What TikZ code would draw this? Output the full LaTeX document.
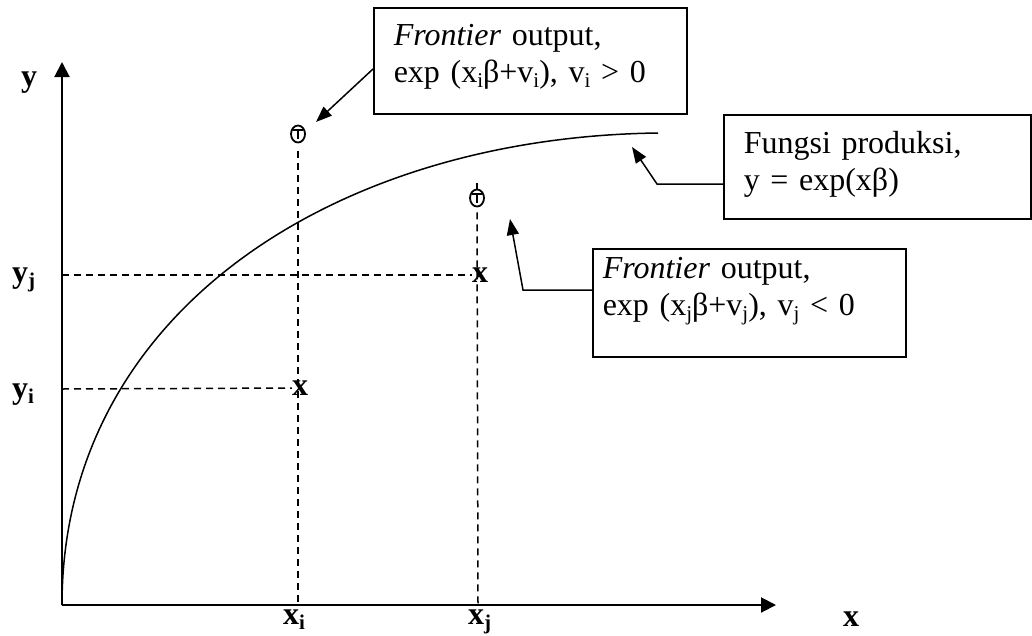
\documentclass[tikz,border=0pt]{standalone}
\usepackage{fontspec}
\setmainfont{Liberation Serif}
\usetikzlibrary{arrows.meta,calc,shapes.geometric}
\newcommand{\lsub}[1]{\raisebox{-0.16em}{\fontsize{21}{21}\selectfont #1}}
\begin{document}
\begin{tikzpicture}[x=1pt,y=-1pt,
  every node/.style={font=\fontsize{32}{37}\selectfont},
  lbl/.style={font=\fontsize{32}{37}\selectfont\bfseries, inner sep=0pt},
  textbox/.style={draw, line width=1.5pt, anchor=north west, align=left, inner ysep=0pt, inner xsep=20pt},
  axis/.style={line width=2pt, -{Triangle[length=15pt,width=15pt]}},
  guide/.style={line width=1.5pt, dash pattern=on 7pt off 5pt},
  curveline/.style={line width=1.5pt},
  pointer/.style={line width=1.5pt, -{Triangle[length=16pt,width=12pt]}},
  marker/.style={ellipse, draw, line width=1.8pt, minimum width=14pt, minimum height=17pt, inner sep=0pt},
  tee/.style={line width=2pt}]
\useasboundingbox (0,0) rectangle (1032,635);

% axes
\coordinate (O) at (62,605);
\coordinate (ytip) at (62,62);
\coordinate (xtip) at (776,605);
\draw[axis] (O) -- (ytip);
\draw[axis] (O) -- (xtip);

% axis labels
\node[lbl, anchor=base west] (ylab) at (21,86) {y};
\node[lbl, anchor=base west] (xlab) at (843,626) {x};
\node[lbl, anchor=base west] (yj) at (12,282) {y\lsub{j}};
\node[lbl, anchor=base west] (yi) at (12,398) {y\lsub{i}};
\node[lbl, anchor=base west] (xi) at (283,624) {x\lsub{i}};
\node[lbl, anchor=base west] (xj) at (468,624) {x\lsub{j}};

% production curve
\coordinate (cend) at (658,133);
\draw[curveline] (O) .. controls (62,312) and (335,137) .. (cend);

% frontier markers
\node[marker] (pi) at (298,134) {};
\draw[tee] (293,130) -- (303,130) (298,130) -- (298,139);
\node[marker] (pj) at (477,198) {};
\draw[tee] (472,194) -- (482,194) (477,194) -- (477,203);
\draw[line width=1.5pt] (pj.north) -- ++(0,-6);

% observed points
\node[lbl] (ci) at (300,388) {x};
\node[lbl] (cj) at (480,275) {x};

% dashed guides
\coordinate (xib) at (298,605);
\coordinate (xjb) at (478,605);
\coordinate (yja) at (62,275);
\coordinate (yia) at (62,389);
\draw[guide] ($(pi.south)+(0,8)$) -- (xib);
\draw[guide] ($(pj.south)+(0,5)$) -- (xjb);
\draw[guide] (yja) -- (cj.west);
\draw[guide] (yia) -- (ci.west);

% boxes
\node[textbox, text width=273pt, text height=38pt, text depth=68pt] (b1) at (373,7)
  {\textit{Frontier} output,\\exp (x\lsub{i}β+v\lsub{i}), v\lsub{i} > 0};
\node[textbox, text width=267pt, text height=39pt, text depth=65pt] (b2) at (723,114)
  {Fungsi produksi,\\y = exp(xβ)};
\node[textbox, inner xsep=10pt, text width=293pt, text height=30pt, text depth=78pt] (b3) at (592,248)
  {\textit{Frontier} output,\\exp (x\lsub{j}β+v\lsub{j}), v\lsub{j} < 0};

% pointers
\coordinate (t1) at (316,122);
\coordinate (t2) at (632,147);
\coordinate (k2) at (657,184);
\coordinate (t3) at (510,219);
\coordinate (k3) at (523,290);
\draw[pointer] ($(b1.north west)+(0,62)$) -- (t1);
\draw[pointer] ($(b2.north west)+(0,70)$) -- (k2) -- (t2);
\draw[pointer] ($(b3.north west)+(0,42)$) -- (k3) -- (t3);
\end{tikzpicture}
\end{document}
